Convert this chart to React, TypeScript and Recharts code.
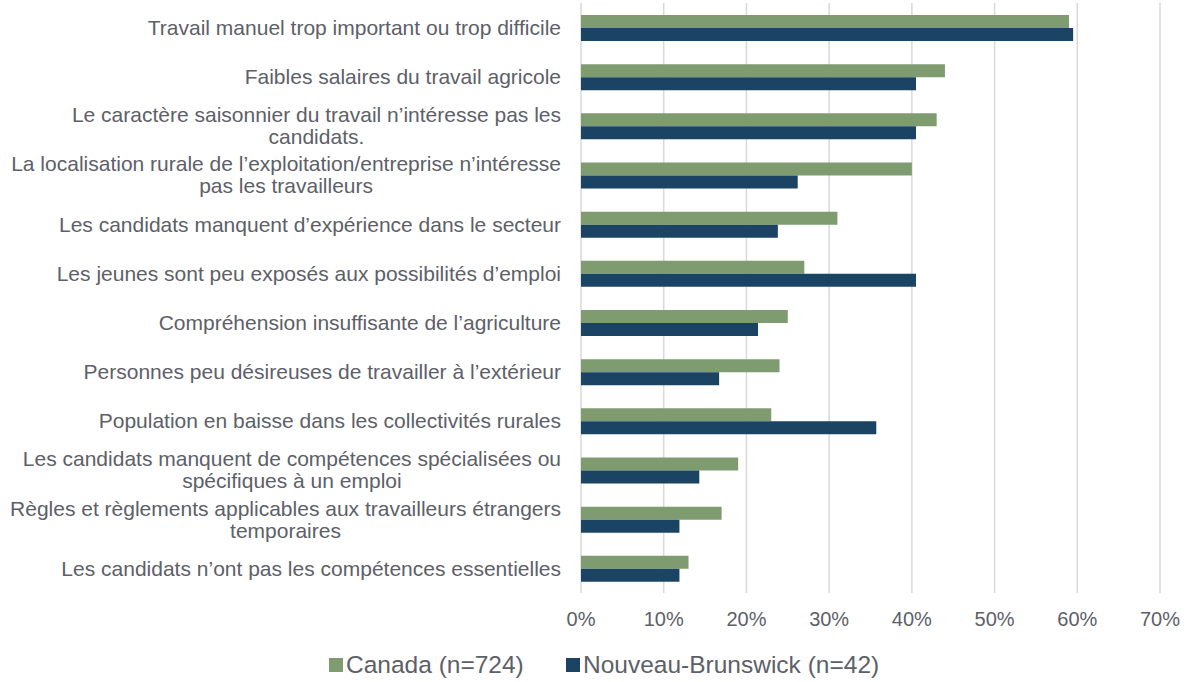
import React from 'react';
import { BarChart, Bar, XAxis, YAxis, CartesianGrid, Legend } from 'recharts';

const categories = [
  "Travail manuel trop important ou trop difficile",
  "Faibles salaires du travail agricole",
  "Le caractère saisonnier du travail n’intéresse pas les\ncandidats.",
  "La localisation rurale de l’exploitation/entreprise n’intéresse\npas les travailleurs",
  "Les candidats manquent d’expérience dans le secteur",
  "Les jeunes sont peu exposés aux possibilités d’emploi",
  "Compréhension insuffisante de l’agriculture",
  "Personnes peu désireuses de travailler à l’extérieur",
  "Population en baisse dans les collectivités rurales",
  "Les candidats manquent de compétences spécialisées ou\nspécifiques à un emploi",
  "Règles et règlements applicables aux travailleurs étrangers\ntemporaires",
  "Les candidats n’ont pas les compétences essentielles",
];
const canadaValues = [59, 44, 43, 40, 31, 27, 25, 24, 23, 19, 17, 13];
const nbValues = [59.5, 40.5, 40.5, 26.2, 23.8, 40.5, 21.4, 16.7, 35.7, 14.3, 11.9, 11.9];
const xTicks = [0, 10, 20, 30, 40, 50, 60, 70];
const seriesNames = ["Canada (n=724)", "Nouveau-Brunswick (n=42)"];

const GREEN = '#7E9C70';
const NAVY = '#1B4363';
const TEXT = '#5d6068';
const FONT = '"Liberation Sans", Arial, sans-serif';
const CAT_SIZE = 21;

const data = categories.map((c, i) => ({ name: c, canada: canadaValues[i], nb: nbValues[i] }));

let ctx: CanvasRenderingContext2D | null = null;
function measure(t: string, size: number) {
  if (!ctx) {
    const c = document.createElement('canvas');
    ctx = c.getContext('2d');
  }
  if (!ctx) return t.length * size * 0.5;
  ctx.font = `${size}px "Liberation Sans", Arial, sans-serif`;
  return ctx.measureText(t).width;
}

const CategoryTick = (props: any) => {
  const { x, y, payload } = props;
  const lines: string[] = String(payload.value).split('\n');
  const maxW = Math.max(...lines.map((l) => measure(l, CAT_SIZE)));
  const cx = x - maxW / 2;
  const n = lines.length;
  return (
    <g>
      {lines.map((l, i) => (
        <text
          key={i}
          x={cx}
          y={y + (i - (n - 1) / 2) * 22}
          dy="0.35em"
          textAnchor="middle"
          fill={TEXT}
          fontSize={CAT_SIZE}
          fontFamily={FONT}
        >
          {l}
        </text>
      ))}
    </g>
  );
};

const LegendContent = () => (
  <div style={{ height: 39, width: 1187, position: 'relative', fontFamily: FONT, fontSize: 24.5, color: TEXT }}>
    {[GREEN, NAVY].map((col, i) => (
      <div
        key={i}
        style={{
          position: 'absolute',
          left: i === 0 ? 329 : 566,
          top: 8,
          height: 28,
          display: 'flex',
          alignItems: 'center',
          whiteSpace: 'nowrap',
        }}
      >
        <span style={{ display: 'inline-block', width: 14, height: 14, background: col, marginRight: 3 }} />
        <span>{seriesNames[i]}</span>
      </div>
    ))}
  </div>
);

export default function App() {
  return (
    <div style={{ position: 'absolute', left: 0, top: 0, width: 1187, height: 682, background: '#fff' }}>
      <BarChart
        width={1187}
        height={682}
        data={data}
        layout="vertical"
        margin={{ top: 3, right: 27, left: 0, bottom: 0 }}
        barGap={0}
        barSize={13}
      >
        <CartesianGrid horizontal={false} vertical={true} stroke="#d9d9d9" strokeWidth={1.5} />
        <XAxis
          type="number"
          domain={[0, 70]}
          ticks={xTicks}
          tickFormatter={(v: number) => `${v}%`}
          axisLine={false}
          tickLine={false}
          tickSize={0}
          tickMargin={19}
          height={50}
          interval={0}
          tick={{ fill: TEXT, fontSize: 20, fontFamily: FONT }}
        />
        <YAxis
          type="category"
          dataKey="name"
          width={581}
          axisLine={false}
          tickLine={false}
          tickSize={0}
          tickMargin={20}
          interval={0}
          tick={<CategoryTick />}
        />
        <Legend verticalAlign="bottom" content={<LegendContent />} wrapperStyle={{ left: 0, width: 1187 }} />
        <Bar dataKey="canada" name={seriesNames[0]} fill={GREEN} isAnimationActive={false} />
        <Bar dataKey="nb" name={seriesNames[1]} fill={NAVY} isAnimationActive={false} />
      </BarChart>
    </div>
  );
}
